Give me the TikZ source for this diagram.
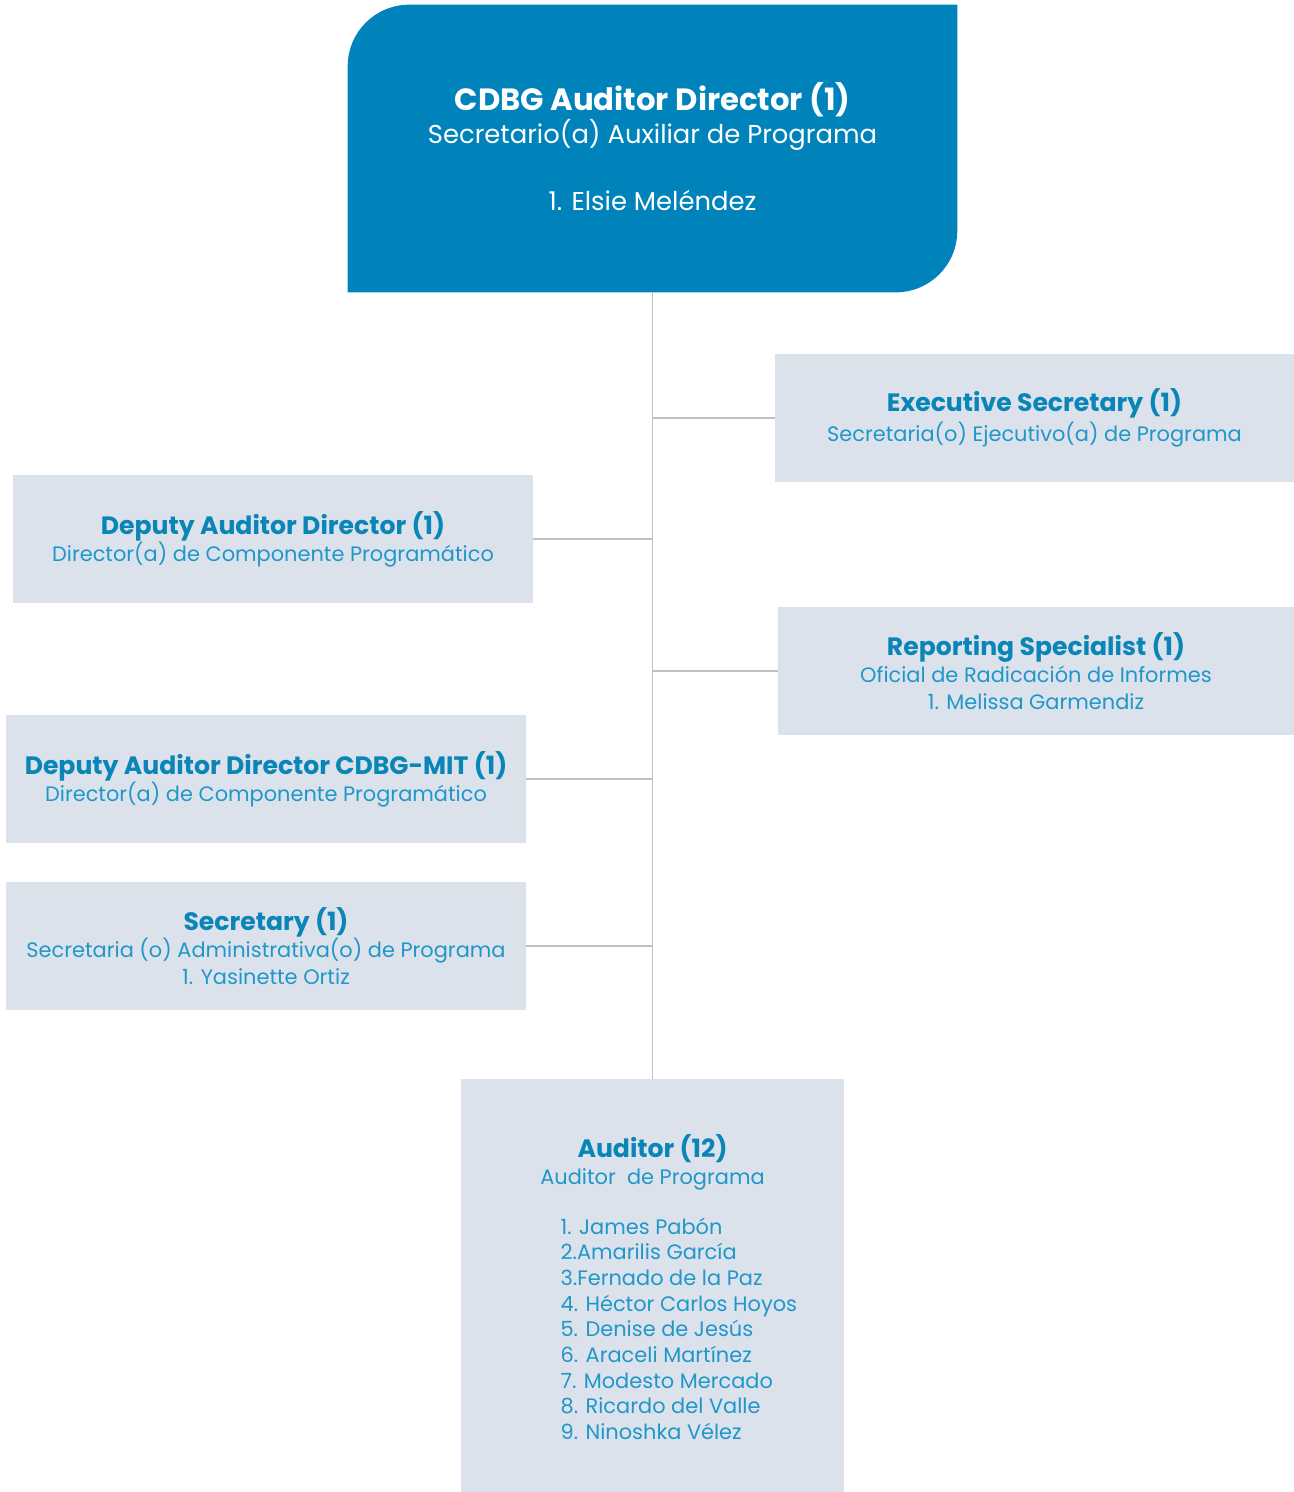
\documentclass[tikz,border=0pt]{standalone}
\usepackage{fontspec}
\setmainfont{Poppins}
\usepackage{tikz}
\definecolor{topblue}{HTML}{0083BA}
\definecolor{boxfill}{HTML}{DBE2EC}
\definecolor{headblue}{HTML}{0A85B7}
\definecolor{subblue}{HTML}{2097C9}
\definecolor{linegray}{HTML}{BFBFBF}
\begin{document}
\begin{tikzpicture}[x=0.02cm,y=0.02cm]
\tikzset{
  post/.style={fill=boxfill, inner sep=0pt, align=center, text=subblue,
    minimum width=10.4cm, minimum height=2.56cm,
    font=\fontsize{11.9}{15.3}\selectfont},
  link/.style={linegray, line width=0.8pt}
}
\newcommand{\hd}[1]{{\color{headblue}\fontsize{14.3}{15.3}\selectfont\bfseries #1}}
\useasboundingbox (0,0) rectangle (1294,-1492);
\node [inner sep=0pt, minimum width=12.18cm, minimum height=5.74cm] (top) at (652.5,-148.5) {};
\fill [topblue] (top.south west) -- ([yshift=-35pt]top.north west)
  arc [start angle=180, end angle=90, radius=35pt] -- (top.north east)
  -- ([yshift=35pt]top.south east) arc [start angle=0, end angle=-90, radius=35pt] -- cycle;
\node [align=center, text=white, font=\fontsize{14.7}{19}\selectfont] at ([yshift=1pt]top.center)
  {{\fontsize{17.5}{19}\selectfont\bfseries CDBG Auditor Director (1)}\\
   Secretario(a) Auxiliar de Programa\\[19pt] 1. Elsie Meléndez};
\node [post, minimum width=10.38cm] (exec) at (1034.5,-418)
  {\hd{Executive Secretary (1)}\\[2pt] Secretaria(o) Ejecutivo(a) de Programa};
\node [post] (dep) at (273,-539)
  {\hd{Deputy Auditor Director (1)}\\ Director(a) de Componente Programático};
\node [post, minimum width=10.32cm] (rep) at (1036,-671)
  {\hd{Reporting Specialist (1)}\\ Oficial de Radicación de Informes\\ 1. Melissa Garmendiz};
\node [post] (mit) at (266,-779)
  {\hd{Deputy Auditor Director CDBG-MIT (1)}\\ Director(a) de Componente Programático};
\node [post] (sec) at (266,-946)
  {\hd{Secretary (1)}\\ Secretaria (o) Administrativa(o) de Programa\\ 1. Yasinette Ortiz};
\node [post, minimum width=7.66cm, minimum height=8.26cm] (aud) at (652.5,-1285.5)
  {\hd{Auditor (12)}\\ Auditor\ \ de Programa\\[14pt]
   \hspace*{30pt}\def\arraystretch{0.955}\begin{tabular}{@{}l@{}}
   1. James Pabón\\ 2.Amarilis García\\ 3.Fernado de la Paz\\ 4. Héctor Carlos Hoyos\\
   5. Denise de Jesús\\ 6. Araceli Martínez\\ 7. Modesto Mercado\\ 8. Ricardo del Valle\\
   9. Ninoshka Vélez
   \end{tabular}\\[-7pt]};
\draw [link] (top.south) -- (aud.north);
\draw [link] (exec.west) -- (exec.west -| top.south);
\draw [link] (dep.east) -- (dep.east -| top.south);
\draw [link] (rep.west) -- (rep.west -| top.south);
\draw [link] (mit.east) -- (mit.east -| top.south);
\draw [link] (sec.east) -- (sec.east -| top.south);
\end{tikzpicture}
\end{document}
